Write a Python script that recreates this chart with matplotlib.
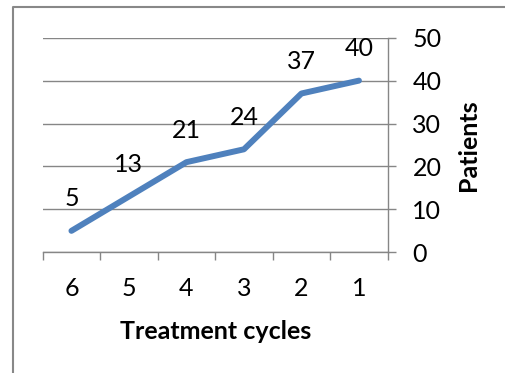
import matplotlib
matplotlib.use("Agg")
import matplotlib.pyplot as plt
from matplotlib.lines import Line2D

categories = ["6", "5", "4", "3", "2", "1"]
patients = [5, 13, 21, 24, 37, 40]
yticks = [0, 10, 20, 30, 40, 50]

plt.rcParams['font.family'] = ['Lato', 'DejaVu Sans']
W, H = 505, 373
fig = plt.figure(figsize=(W/100, H/100), dpi=100)
ax = fig.add_axes([42.7/W, 1-252.3/H, (387.7-42.7)/W, (252.3-37.7)/H])

grey = '#868686'
fs = 18
x = [i + 0.5 for i in range(len(categories))]
ax.plot(x, patients, color='#4F81BD', lw=4.3, solid_capstyle='round', solid_joinstyle='round', zorder=3)
for xi, v in zip(x, patients):
    ax.annotate(str(v), (xi, v), xytext=(0, 23), textcoords='offset points',
                ha='center', va='center', fontsize=fs, color='#000000')

ax.set_xlim(0, len(categories))
ax.set_ylim(0, 50)
ax.set_xticks(range(len(categories) + 1))
ax.set_xticklabels([])
ax.set_xticks(x, minor=True)
ax.set_xticklabels(categories, minor=True, fontsize=fs)
ax.tick_params(axis='x', which='major', direction='out', length=5.8, color=grey, width=1)
ax.tick_params(axis='x', which='minor', length=0, pad=18)
ax.yaxis.tick_right()
ax.yaxis.set_label_position('right')
ax.set_yticks(yticks)
ax.tick_params(axis='y', direction='out', length=5.8, color=grey, width=1, labelsize=fs, pad=12)
ax.grid(axis='y', color=grey, lw=1)
ax.set_axisbelow(True)
for s in ['left', 'top']:
    ax.spines[s].set_visible(False)
for s in ['bottom', 'right']:
    ax.spines[s].set_color(grey)
    ax.spines[s].set_linewidth(1)
ax.set_xlabel('Treatment cycles', fontsize=fs, fontweight='bold', labelpad=14)
ax.set_ylabel('Patients', fontsize=fs, fontweight='bold', labelpad=11)

fig.add_artist(Line2D([13/W, 13/W, 1.0], [0.0, 1-7.3/H, 1-7.3/H], color='#888888', lw=1.5, transform=fig.transFigure))
fig.savefig('out.png', dpi=100)
